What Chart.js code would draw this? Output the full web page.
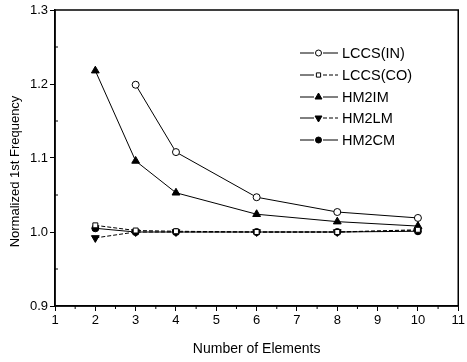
<!DOCTYPE html>
<html><head><meta charset="utf-8">
<script src="https://cdn.jsdelivr.net/npm/chart.js@4/dist/chart.umd.min.js"></script>
<style>html,body{margin:0;padding:0;background:#fff}#wrap{width:467px;height:362px}</style>
</head><body><div id="wrap"><canvas id="c" width="467" height="362"></canvas></div>
<script>
const xValues = [2, 3, 4, 6, 8, 10];
const seriesNames = ['LCCS(IN)', 'LCCS(CO)', 'HM2IM', 'HM2LM', 'HM2CM'];
const lccsIn = [null, 1.199, 1.108, 1.047, 1.027, 1.019];
const lccsCo = [1.009, 1.002, 1.001, 1.000, 1.000, 1.003];
const hm2im  = [1.218, 1.096, 1.053, 1.024, 1.014, 1.008];
const hm2lm  = [0.992, 1.000, 1.000, 1.000, 1.000, 1.002];
const hm2cm  = [1.005, 1.000, 1.000, 1.000, 1.000, 1.001];
const xTicks = [1,2,3,4,5,6,7,8,9,10,11];
const yTicks = [0.9,1.0,1.1,1.2,1.3];
const xTitle = 'Number of Elements';
const yTitle = 'Normalized 1st Frequency';

const FONT = "'Liberation Sans', Arial, sans-serif";
const toPts = arr => xValues.map((x,i)=>({x:x,y:arr[i]})).filter(p=>p.y!==null);

const styles = [
  {pointStyle:'circle', bg:'#fff', dash:[], rot:0, r:3.5},
  {pointStyle:'rect', bg:'#fff', dash:[4,2], rot:0, r:3.5},
  {pointStyle:'triangle', bg:'#000', dash:[], rot:0, r:4.5},
  {pointStyle:'triangle', bg:'#000', dash:[4,2], rot:180, r:4.5},
  {pointStyle:'circle', bg:'#000', dash:[], rot:0, r:3.5}
];
const allSeries = [lccsIn, lccsCo, hm2im, hm2lm, hm2cm];

const datasets = allSeries.map((s,i)=>({
  label: seriesNames[i],
  data: toPts(s),
  borderColor:'#000', borderWidth:1, borderDash:styles[i].dash,
  pointStyle:styles[i].pointStyle, pointRotation:styles[i].rot,
  pointRadius:styles[i].r, pointBackgroundColor:styles[i].bg,
  pointBorderColor:'#000', pointBorderWidth:1, tension:0, fill:false
}));

new Chart(document.getElementById('c'), {
  type:'line',
  data:{datasets},
  options:{
    responsive:false, animation:false, devicePixelRatio:1,
    layout:{padding:{left:0,right:7,top:10,bottom:0}},
    plugins:{legend:{display:false}, tooltip:{enabled:false}},
    scales:{
      x:{type:'linear', min:1, max:11,
        afterBuildTicks: s => { s.ticks = xTicks.map(v=>({value:v})); },
        afterFit: s => { s.height = 56; },
        ticks:{color:'#000', font:{family:FONT,size:13}, padding:2, maxRotation:0, autoSkip:false},
        grid:{drawOnChartArea:false, drawTicks:true, tickLength:5, color:'#000', tickWidth:1},
        border:{display:true, color:'#000', width:1.5},
        title:{display:true, text:xTitle, color:'#000', font:{family:FONT,size:14}, padding:{top:4,bottom:4}}
      },
      y:{type:'linear', min:0.9, max:1.3,
        afterBuildTicks: s => { s.ticks = yTicks.map(v=>({value:v})); },
        afterFit: s => { s.width = 55; },
        ticks:{color:'#000', font:{family:FONT,size:13}, padding:2, callback:v=>Number(v).toFixed(1)},
        grid:{drawOnChartArea:false, drawTicks:true, tickLength:5, color:'#000', tickWidth:1},
        border:{display:true, color:'#000', width:1.5},
        title:{display:false}
      }
    }
  },
  plugins:[{
    id:'frame',
    afterDraw(chart){
      const ctx = chart.ctx;
      const fill = chart.data.datasets.map(d=>d.pointBackgroundColor);
      const a = chart.chartArea;
      const xs = chart.scales.x, ys = chart.scales.y;
      ctx.save();
      ctx.strokeStyle = '#000'; ctx.lineWidth = 1.5;
      ctx.strokeRect(a.left, a.top, a.right-a.left, a.bottom-a.top);
      ctx.lineWidth = 1;
      ctx.beginPath();
      for (let v=1.5; v<11; v+=1){ const px = xs.getPixelForValue(v); ctx.moveTo(px, a.bottom); ctx.lineTo(px, a.bottom+3); }
      for (let v=0.95; v<1.3; v+=0.1){ const py = ys.getPixelForValue(v); ctx.moveTo(a.left, py); ctx.lineTo(a.left+3, py); }
      ctx.stroke();
      // y axis title
      ctx.save();
      ctx.translate(15.5, 171.5);
      ctx.rotate(-Math.PI/2);
      ctx.font = "13px " + FONT; ctx.textAlign = 'center'; ctx.textBaseline = 'middle'; ctx.fillStyle = '#000';
      ctx.fillText(yTitle, 0, 0);
      ctx.restore();
      // legend
      const rows = [53, 75, 97, 118, 140];
      ctx.font = "14.5px " + FONT; ctx.textBaseline = 'middle'; ctx.textAlign = 'left';
      chart.data.datasets.forEach((d,i)=>{
        const y = rows[i];
        ctx.strokeStyle = '#000'; ctx.lineWidth = 1;
        ctx.setLineDash([]); ctx.beginPath(); ctx.moveTo(300,y); ctx.lineTo(314,y); ctx.stroke();
        ctx.setLineDash(d.borderDash.length? [4,2] : []); ctx.beginPath(); ctx.moveTo(323,y); ctx.lineTo(338,y); ctx.stroke();
        ctx.setLineDash([]);
        ctx.fillStyle = fill[i];
        Chart.helpers.drawPoint(ctx, {pointStyle:d.pointStyle, rotation:d.pointRotation, radius:d.pointRadius-0.5, borderWidth:1}, 318.5, y);
        ctx.fillStyle = '#000';
        ctx.fillText(d.label, 342, y+0.5);
      });
      ctx.restore();
    }
  }]
});
</script></body></html>
